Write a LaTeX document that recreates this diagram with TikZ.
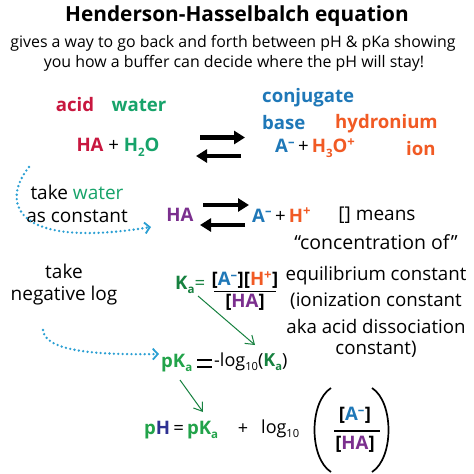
\documentclass[tikz,border=0pt]{standalone}
\usepackage{fontspec}
\setmainfont{Open Sans}
\usetikzlibrary{arrows.meta}
\definecolor{acidred}{HTML}{C8173F}
\definecolor{watergreen}{HTML}{17A36A}
\definecolor{baseblue}{HTML}{1F78B8}
\definecolor{hydorange}{HTML}{F15A24}
\definecolor{hapurple}{HTML}{7B2F8E}
\definecolor{kgreen}{HTML}{16813F}
\definecolor{pgreen}{HTML}{22A34A}
\definecolor{phblue}{HTML}{2E3192}
\definecolor{dotblue}{HTML}{2A9FD3}
\newcommand{\lo}[1]{\raisebox{-0.45ex}{\fontsize{0.62em}{0.7em}\selectfont #1}}
\newcommand{\hi}[1]{\textsuperscript{#1}}
\tikzset{
  lbl/.style={inner sep=0pt, font=\fontsize{19}{22}\selectfont},
  chem/.style={inner sep=0pt, font=\fontsize{18.6}{22}\selectfont\bfseries},
  eqarrow/.style={line width=4.5pt, -{Triangle[length=11pt,width=13pt]}},
  dotarc/.style={dotblue, line width=2.6pt, line cap=round, dash pattern=on 0pt off 4.4pt, -{Straight Barb[length=5pt,width=11pt,line width=1.8pt]}},
  karrow/.style={kgreen, line width=1pt, -{Straight Barb[length=8pt,width=11pt,line width=1pt]}},
  paren/.style={line width=1.7pt},
}
\begin{document}
\begin{tikzpicture}[x=1pt,y=-1pt]
\useasboundingbox (0,0) rectangle (474,474);
\fill[white] (0,0) rectangle (474,474);
% title
\node[inner sep=0pt, font=\fontsize{20.8}{24}\selectfont\bfseries] (title) at (237,16) {Henderson-Hasselbalch equation};
\node[inner sep=0pt, font=\fontsize{15.9}{20}\selectfont] (sub1) at (233,43) {gives a way to go back and forth between pH \& pKa showing};
\node[inner sep=0pt, font=\fontsize{15.9}{20}\selectfont] (sub2) at (234,63) {you how a buffer can decide where the pH will stay!};
% first reaction
\node[chem, acidred] (acid) at (75,105) {acid};
\node[chem, watergreen] (water) at (139,105) {water};
\node[chem] (react1) at (118,147) {\textcolor{acidred}{HA} \textmd{+} \textcolor{watergreen}{H\lo{2}O}};
\coordinate (a1s) at (200,137.5);
\coordinate (a1e) at (245,137.5);
\coordinate (a2s) at (241,156);
\coordinate (a2e) at (196,156);
\draw[eqarrow] (a1s) -- (a1e);
\draw[eqarrow] (a2s) -- (a2e);
\node[chem, baseblue, anchor=west] (conj) at (262,98) {conjugate};
\node[chem, baseblue, anchor=west] (base) at (262,123) {base};
\node[chem, hydorange, anchor=west] (hydro) at (335,124) {hydronium};
\node[chem, hydorange, anchor=west] (ion) at (406,149) {ion};
\node[chem, anchor=west] (prod1) at (275,148) {\textcolor{baseblue}{A\hi{–}}\,\textmd{+}\,\textcolor{hydorange}{H\lo{3}O\hi{+}}};
% second reaction
\node[lbl] (tw) at (77,192) {take \textcolor{watergreen}{water}};
\node[lbl] (asc) at (77,216) {as constant};
\node[chem, hapurple] (ha2) at (180,215) {HA};
\coordinate (b1s) at (203,205);
\coordinate (b1e) at (249,205);
\coordinate (b2s) at (245,225);
\coordinate (b2e) at (200,225);
\draw[eqarrow] (b1s) -- (b1e);
\draw[eqarrow] (b2s) -- (b2e);
\node[chem, anchor=west] (prod2) at (252,215) {\textcolor{baseblue}{A\hi{–}}\,\textmd{+}\,\textcolor{hydorange}{H\hi{+}}};
\node[lbl] (means) at (377,215) {[] means};
\node[lbl, font=\fontsize{19.5}{22}\selectfont] (conc) at (376,242) {“concentration of”};
\coordinate (d1s) at (29,167);
\coordinate (d1e) at (151,227);
\draw[dotarc] (d1s) .. controls (2,200) and (10,250) .. (d1e);
% Ka
\node[lbl] (take) at (64,271) {take};
\node[lbl] (neglog) at (64,296) {negative log};
\node[chem, kgreen, anchor=west] (ka) at (175,285) {K\lo{a}\textmd{=}};
\node[chem, anchor=south] (kanum) at (245,289) {[\textcolor{baseblue}{A\hi{–}}][\textcolor{hydorange}{H\hi{+}}]};
\draw[line width=1.3pt] (214,291.5) -- (276,291.5);
\node[chem, anchor=north] (kaden) at (245,294) {[\textcolor{hapurple}{HA}]};
\node[lbl, font=\fontsize{18.7}{22}\selectfont] (eq1) at (376,276) {equilibrium constant};
\node[lbl, font=\fontsize{18.7}{22}\selectfont] (eq2) at (376,301) {(ionization constant};
\node[lbl, font=\fontsize{18.7}{22}\selectfont] (eq3) at (376,326) {aka acid dissociation};
\node[lbl, font=\fontsize{18.7}{22}\selectfont] (eq4) at (376,349) {constant)};
% pKa
\node[chem, pgreen, anchor=west] (pka) at (161,363) {pK\lo{a}};
\coordinate (eqa) at (197,360);
\coordinate (eqb) at (212,360);
\coordinate (eqc) at (197,367);
\coordinate (eqd) at (212,367);
\draw[line width=2.4pt] (eqa) -- (eqb);
\draw[line width=2.4pt] (eqc) -- (eqd);
\node[inner sep=0pt, anchor=west, font=\fontsize{18}{20}\selectfont] (logk) at (214,362) {-log\lo{10}(\textcolor{kgreen}{\textbf{K\lo{a}}})};
\coordinate (kaarr) at (198,296);
\draw[karrow] (kaarr) -- (255,345);
\coordinate (d2s) at (43,330);
\coordinate (d2e) at (159,354);
\draw[dotarc] (d2s) .. controls (45,352) and (100,355) .. (d2e);
% pH
\node[chem, anchor=west] (ph) at (144,430) {\textcolor{pgreen}{p}\textcolor{phblue}{H}\,\textmd{=}\,\textcolor{pgreen}{pK\lo{a}}};
\coordinate (pkaarr) at (180,380);
\draw[karrow] (pkaarr) -- (203,412);
\node[inner sep=0pt, font=\fontsize{18}{20}\selectfont] (plus) at (243,429) {+};
\node[inner sep=0pt, anchor=west, font=\fontsize{18}{20}\selectfont] (log10) at (261,429) {log\lo{10}};
\draw[paren] (331,388) .. controls (309,402) and (309,458) .. (331,472);
\draw[paren] (372,388) .. controls (394,402) and (394,458) .. (372,472);
\node[chem, anchor=south] (fnum) at (355,424) {[\textcolor{baseblue}{A\hi{–}}]};
\draw[line width=1.3pt] (334,431) -- (380,431);
\node[chem, anchor=north] (fden) at (355,436) {[\textcolor{hapurple}{HA}]};
\end{tikzpicture}
\end{document}
